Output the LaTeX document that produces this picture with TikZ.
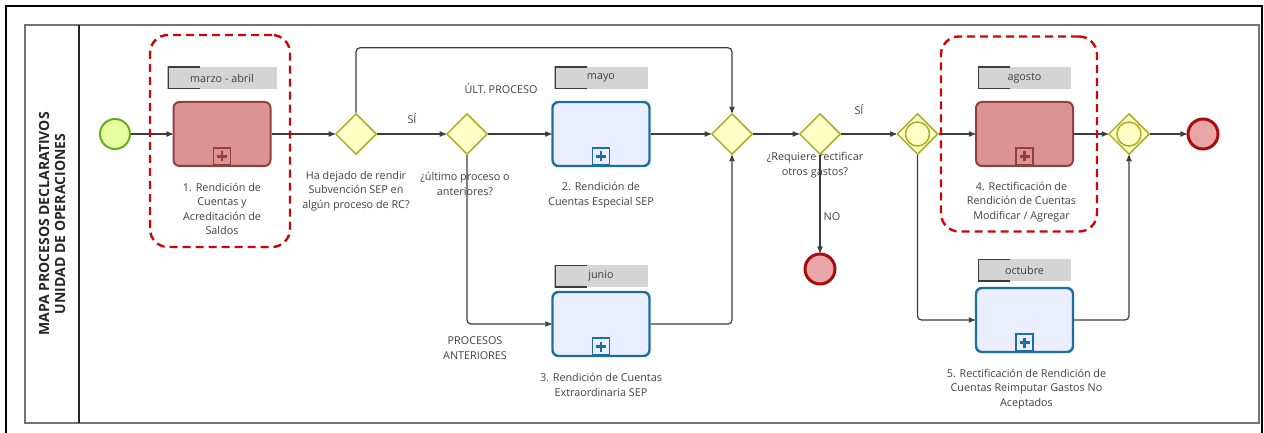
\documentclass[tikz,border=0pt]{standalone}
\usepackage{fontspec}
\setmainfont{Open Sans}
\usepackage{tikz}
\usetikzlibrary{arrows}
\usetikzlibrary{positioning}
\usetikzlibrary{shapes.geometric}

\definecolor{flowgray}{RGB}{60,60,60}
\definecolor{txtgray}{RGB}{64,64,64}
\definecolor{startfill}{RGB}{232,253,160}
\definecolor{startline}{RGB}{102,172,30}
\definecolor{gwfill}{RGB}{255,255,198}
\definecolor{gwline}{RGB}{172,172,40}
\definecolor{redfill}{RGB}{218,148,148}
\definecolor{redline}{RGB}{148,62,62}
\definecolor{bluefill}{RGB}{234,238,254}
\definecolor{blueline}{RGB}{28,110,162}
\definecolor{endfill}{RGB}{234,166,166}
\definecolor{endline}{RGB}{168,12,12}
\definecolor{tagfill}{RGB}{212,212,212}
\definecolor{grpred}{RGB}{200,8,8}

\tikzstyle{every node}+=[inner sep=0pt]
\tikzstyle{task} = [rectangle, rounded corners=6pt, line width=2pt, minimum width=97pt, minimum height=64pt]
\tikzstyle{subred} = [task, draw=redline, fill=redfill, path picture={
    \draw[redline, sharp corners, line width=1.5pt] ([xshift=-8.5pt, yshift=1pt]path picture bounding box.south) rectangle ++(17pt,17pt);
    \draw[redline, sharp corners, line width=2.6pt] ([yshift=9.5pt]path picture bounding box.south) +(-5pt,0) -- +(5pt,0) +(0,-5pt) -- +(0,5pt);}]
\tikzstyle{subblue} = [task, line width=2.4pt, draw=blueline, fill=bluefill, path picture={
    \draw[blueline, sharp corners, line width=1.8pt] ([xshift=-8.5pt, yshift=1pt]path picture bounding box.south) rectangle ++(17pt,17pt);
    \draw[blueline, sharp corners, line width=2.6pt] ([yshift=9.5pt]path picture bounding box.south) +(-5pt,0) -- +(5pt,0) +(0,-5pt) -- +(0,5pt);}]
\tikzstyle{gateway} = [diamond, draw=gwline, fill=gwfill, line width=1.5pt, minimum width=41pt, minimum height=41pt]
\tikzstyle{gatewayor} = [gateway, path picture={\draw[gwline, line width=1.5pt] (path picture bounding box.center) circle (12pt);}]
\tikzstyle{startev} = [circle, draw=startline, fill=startfill, line width=2pt, minimum size=30pt]
\tikzstyle{endev} = [circle, draw=endline, fill=endfill, line width=3pt, minimum size=30pt]
\tikzstyle{tag} = [rectangle, fill=tagfill, text=txtgray, minimum width=93pt, minimum height=22pt, font=\fontsize{10.8}{13}\selectfont,
    path picture={\draw[flowgray, line width=2.4pt] ([xshift=32pt]path picture bounding box.north west) -| (path picture bounding box.south west) -- ++(32pt,0);}]
\tikzstyle{desc} = [align=center, text=txtgray, font=\fontsize{10.8}{14.5}\selectfont]
\tikzstyle{line} = [draw, flowgray, line width=1.2pt, -stealth']
\tikzstyle{grp} = [rectangle, draw=grpred, line width=2.4pt, dash pattern=on 8pt off 5pt, rounded corners=18pt]

\begin{document}
\begin{tikzpicture}[x=1pt, y=-1pt]
  \useasboundingbox (0,0) rectangle (1264,433);
  % Frame and pool
  \draw [line width=2.5pt] (6,6) rectangle (1262,445);
  \draw [line width=1.8pt, black!55] (25,25) rectangle (1259,423);
  \draw [line width=1.5pt, black!85] (79,25) -- (79,423);
  \node [rotate=90, align=center, text=black!85, font=\bfseries\fontsize{14}{16}\selectfont] (pooltitle) at (52,224) {MAPA PROCESOS DECLARATIVOS\\UNIDAD DE OPERACIONES};
  % Place nodes
  \node [startev] (start) at (115,134) {};
  \node [subred, right of=start, node distance=107pt] (t1) {};
  \node [gateway, right of=t1, node distance=134pt] (g1) {};
  \node [gateway, right of=g1, node distance=111pt] (g2) {};
  \node [subblue, right of=g2, node distance=134pt] (t2) {};
  \node [subblue, below of=t2, node distance=190pt] (t3) {};
  \node [gateway, right of=t2, node distance=131pt] (g3) {};
  \node [gateway, right of=g3, node distance=88pt] (g4) {};
  \node [endev, below of=g4, node distance=135pt] (e1) {};
  \node [gatewayor, right of=g4, node distance=97.5pt] (g5) {};
  \node [subred, right of=g5, node distance=107pt] (t4) {};
  \node [subblue, below of=t4, node distance=186pt] (t5) {};
  \node [gatewayor, right of=t4, node distance=104.5pt] (g6) {};
  \node [endev, right of=g6, node distance=74pt] (e2) {};
  % Month tags
  \node [tag, above of=t1, node distance=56pt, minimum width=109pt] (m1) {marzo - abril};
  \node [tag, above of=t2, node distance=56pt] (m2) {mayo};
  \node [tag, above of=t3, node distance=48pt] (m3) {junio};
  \node [tag, above of=t4, node distance=56pt] (m4) {agosto};
  \node [tag, above of=t5, node distance=50pt] (m5) {octubre};
  % Texts under the nodes
  \node [desc, below of=t1, node distance=75pt] (d1) {1. Rendición de\\Cuentas y\\Acreditación de\\Saldos};
  \node [desc, below of=g1, node distance=57pt] (dg1) {Ha dejado de rendir\\Subvención SEP en\\algún proceso de RC?};
  \node [desc, below of=g2, node distance=50pt, xshift=-2pt] (dg2) {¿último proceso o\\anteriores?};
  \node [desc, below of=t2, node distance=61pt] (d2) {2. Rendición de\\Cuentas Especial SEP};
  \node [desc, below of=t3, node distance=61pt] (d3) {3. Rendición de Cuentas\\Extraordinaria SEP};
  \node [desc, below of=g4, node distance=31pt, xshift=-5pt] (dg4) {¿Requiere rectificar\\otros gastos?};
  \node [desc, below of=t4, node distance=68pt, xshift=-3pt] (d4) {4. Rectificación de\\Rendición de Cuentas\\Modificar / Agregar};
  \node [desc, below of=t5, node distance=69pt, xshift=2pt] (d5) {5. Rectificación de Rendición de\\Cuentas Reimputar Gastos No\\Aceptados};
  % Flow labels
  \node [desc, right of=g1, node distance=56pt, yshift=15pt] (si1) {SÍ};
  \node [desc, right of=g2, node distance=34pt, yshift=45pt] (ult) {ÚLT. PROCESO};
  \node [desc, below of=g2, node distance=214pt, xshift=8pt] (ant) {PROCESOS\\ANTERIORES};
  \node [desc, right of=g4, node distance=39pt, yshift=24pt] (si2) {SÍ};
  \node [desc, below of=g4, node distance=83pt, xshift=12pt] (no) {NO};
  % Draw edges
  \path [line] (start) -- (t1);
  \path [line] (t1) -- (g1);
  \path [line] (g1) -- (g2);
  \path [line] (g2) -- (t2);
  \path [line, rounded corners=4pt] (g2.south) |- (t3.west);
  \path [line, rounded corners=4pt] (g1.north) |- ([yshift=65pt]g3.north) -- (g3.north);
  \path [line] (t2) -- (g3);
  \path [line, rounded corners=4pt] (t3.east) -| (g3.south);
  \path [line] (g3) -- (g4);
  \path [line] (g4) -- (g5);
  \path [line] (g4) -- (e1);
  \path [line] (g5) -- (t4);
  \path [line, rounded corners=4pt] (g5.south) |- (t5.west);
  \path [line] (t4) -- (g6);
  \path [line, rounded corners=4pt] (t5.east) -| (g6.south);
  \path [line] (g6) -- (e2);
  % Dashed groups
  \node [grp, minimum width=140pt, minimum height=212pt] (grp1) at ([xshift=-2pt, yshift=-7pt]t1) {};
  \node [grp, minimum width=156pt, minimum height=195pt] (grp2) at ([xshift=-5.5pt]t4) {};
\end{tikzpicture}
\end{document}
